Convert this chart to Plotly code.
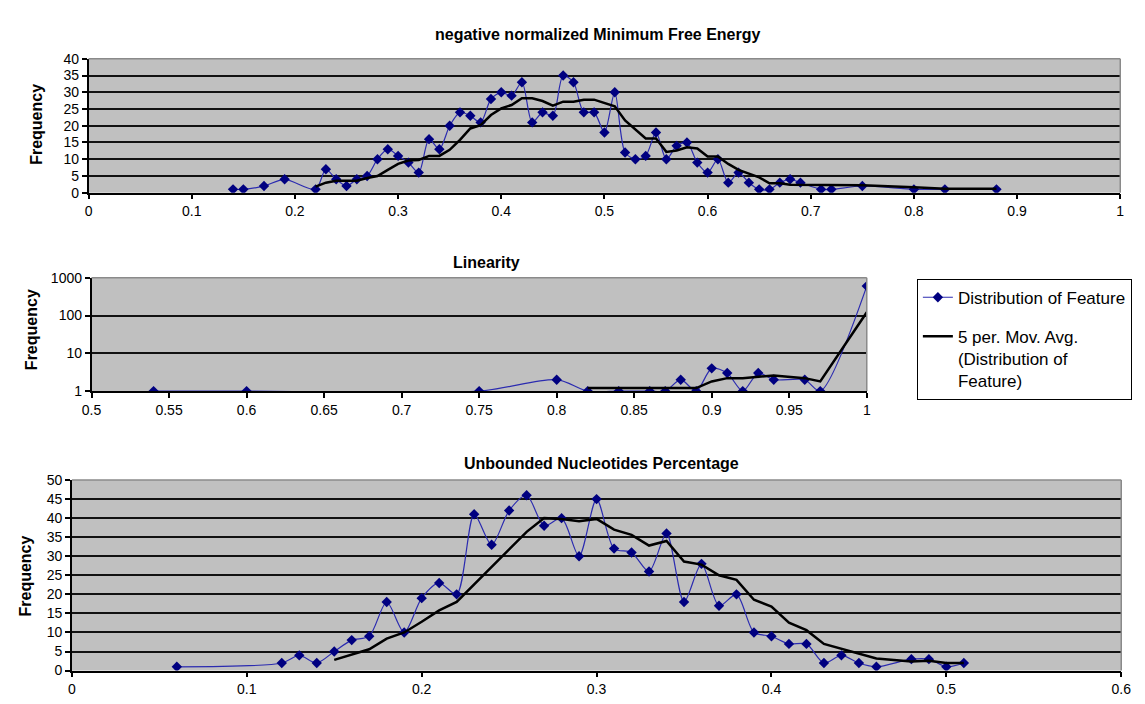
import plotly.graph_objects as go
import pandas as pd

W, H = 1145, 704

# ---- data: negative normalized Minimum Free Energy ----
mfe_x = [0.14, 0.15, 0.17, 0.19, 0.22, 0.23, 0.24, 0.25, 0.26, 0.27, 0.28, 0.29,
         0.30, 0.31, 0.32, 0.33, 0.34, 0.35, 0.36, 0.37, 0.38, 0.39, 0.40, 0.41,
         0.42, 0.43, 0.44, 0.45, 0.46, 0.47, 0.48, 0.49, 0.50, 0.51, 0.52, 0.53,
         0.54, 0.55, 0.56, 0.57, 0.58, 0.59, 0.60, 0.61, 0.62, 0.63, 0.64, 0.65,
         0.66, 0.67, 0.68, 0.69, 0.71, 0.72, 0.75, 0.80, 0.83, 0.88]
mfe_y = [1, 1, 2, 4, 1, 7, 4, 2, 4, 5, 10, 13,
         11, 9, 6, 16, 13, 20, 24, 23, 21, 28, 30, 29,
         33, 21, 24, 23, 35, 33, 24, 24, 18, 30, 12, 10,
         11, 18, 10, 14, 15, 9, 6, 10, 3, 6, 3, 1,
         1, 3, 4, 3, 1, 1, 2, 1, 1, 1]

# ---- data: Linearity ----
lin_x = [0.54, 0.60, 0.75, 0.80, 0.82, 0.84, 0.86, 0.87, 0.88, 0.89, 0.90,
         0.91, 0.92, 0.93, 0.94, 0.96, 0.97, 1.00]
lin_y = [1, 1, 1, 2, 1, 1, 1, 1, 2, 1, 4,
         3, 1, 3, 2, 2, 1, 600]

# ---- data: Unbounded Nucleotides Percentage ----
unb_x = [0.06, 0.12, 0.13, 0.14, 0.15, 0.16, 0.17, 0.18, 0.19, 0.20, 0.21, 0.22,
         0.23, 0.24, 0.25, 0.26, 0.27, 0.28, 0.29, 0.30, 0.31, 0.32, 0.33, 0.34,
         0.35, 0.36, 0.37, 0.38, 0.39, 0.40, 0.41, 0.42, 0.43, 0.44, 0.45, 0.46,
         0.48, 0.49, 0.50, 0.51]
unb_y = [1, 2, 4, 2, 5, 8, 9, 18, 10, 19, 23, 20,
         41, 33, 42, 46, 38, 40, 30, 45, 32, 31, 26, 36,
         18, 28, 17, 20, 10, 9, 7, 7, 2, 4, 2, 1,
         3, 3, 1, 2]

titles = ["negative normalized Minimum Free Energy", "Linearity",
          "Unbounded Nucleotides Percentage"]
series_name = "Distribution of Feature"
ma_name = "5 per. Mov. Avg.<br>(Distribution of<br>Feature)"
PERIOD = 5

FONT = "Liberation Sans, Arial, sans-serif"
BLUE_LINE = "#2b2bb0"
BLUE_MARK = "#000080"


def moving_avg(xs, ys):
    m = pd.Series(ys, dtype=float).rolling(PERIOD).mean()
    return xs[PERIOD - 1:], m.tolist()[PERIOD - 1:]


def px_x(p):
    return p / W


def px_y(p):
    return 1 - p / H


fig = go.Figure()

panels = [
    (mfe_x, mfe_y, "x", "y", False),
    (lin_x, lin_y, "x2", "y2", True),
    (unb_x, unb_y, "x3", "y3", False),
]
for xs, ys, xa, ya, show in panels:
    fig.add_trace(go.Scatter(
        x=xs, y=ys, xaxis=xa, yaxis=ya, mode="lines+markers",
        name=series_name, legendgroup="a", showlegend=show,
        line=dict(color=BLUE_LINE, width=1.2, shape="spline", smoothing=0.8),
        marker=dict(symbol="diamond", size=8, color=BLUE_MARK),
    ))
    mx, my = moving_avg(xs, ys)
    fig.add_trace(go.Scatter(
        x=mx, y=my, xaxis=xa, yaxis=ya, mode="lines",
        name=ma_name, legendgroup="b", showlegend=show,
        line=dict(color="black", width=2.5),
    ))

common_x = dict(showline=True, linecolor="black", linewidth=1.5, ticks="outside",
                ticklen=5, tickcolor="black", tickwidth=1.5, showgrid=False,
                zeroline=False, tickfont=dict(family=FONT, size=14, color="black"))
common_y = dict(showline=True, linecolor="black", linewidth=1.5, ticks="outside",
                ticklen=5, tickcolor="black", tickwidth=1.5, showgrid=True,
                gridcolor="#111111", gridwidth=1.6, zeroline=False,
                tickfont=dict(family=FONT, size=14, color="black"))

doms = {
    "top": ([px_x(80), px_x(1130)], [px_y(189), px_y(52)]),
    "mid": ([px_x(83), px_x(872)], [px_y(392), px_y(276)]),
    "bot": ([px_x(63), px_x(1131)], [px_y(678), px_y(483)]),
}

fig.update_layout(
    width=W, height=H, margin=dict(l=0, r=0, t=0, b=0),
    paper_bgcolor="white", plot_bgcolor="#c0c0c0",
    font=dict(family=FONT, color="black"),
    xaxis=dict(domain=doms["top"][0], anchor="y", range=[0, 1], dtick=0.1, **common_x),
    yaxis=dict(domain=doms["top"][1], anchor="x", range=[0, 40], dtick=5, **common_y),
    xaxis2=dict(domain=doms["mid"][0], anchor="y2", range=[0.5, 1], dtick=0.05, **common_x),
    yaxis2=dict(domain=doms["mid"][1], anchor="x2", type="log", range=[0, 3],
                tickvals=[1, 10, 100, 1000], ticktext=["1", "10", "100", "1000"], **common_y),
    xaxis3=dict(domain=doms["bot"][0], anchor="y3", range=[0, 0.6], dtick=0.1, **common_x),
    yaxis3=dict(domain=doms["bot"][1], anchor="x3", range=[0, 50], dtick=5, **common_y),
    legend=dict(x=px_x(923), y=px_y(277), xanchor="left", yanchor="top",
                bgcolor="white", bordercolor="black", borderwidth=1,
                font=dict(family=FONT, size=17, color="black"),
                tracegroupgap=14, valign="top", traceorder="grouped"),
    showlegend=True,
)

# grey top and right plot-area borders
for xa, ya in [("x", "y"), ("x2", "y2"), ("x3", "y3")]:
    fig.add_shape(type="line", xref=f"{xa} domain", yref=f"{ya} domain",
                  x0=0, x1=1, y0=1, y1=1, line=dict(color="#8a8a8a", width=1.5))
    fig.add_shape(type="line", xref=f"{xa} domain", yref=f"{ya} domain",
                  x0=1, x1=1, y0=0, y1=1, line=dict(color="#8a8a8a", width=1.5))

# titles
for text, cx, cy in [(titles[0], 598, 27), (titles[1], 485, 260), (titles[2], 602, 466)]:
    fig.add_annotation(text=f"<b>{text}</b>", xref="paper", yref="paper",
                       x=px_x(cx), y=px_y(cy), xanchor="center", yanchor="middle",
                       showarrow=False, font=dict(family=FONT, size=16, color="black"))

# y-axis titles
for cx, cy in [(27, 119), (22, 329), (16, 581)]:
    fig.add_annotation(text="<b>Frequency</b>", xref="paper", yref="paper",
                       x=px_x(cx), y=px_y(cy), xanchor="center", yanchor="middle",
                       textangle=-90, showarrow=False,
                       font=dict(family=FONT, size=16, color="black"))

fig.write_html("out.html", config={"displayModeBar": False},
               post_script="document.body.style.margin='0px';")
